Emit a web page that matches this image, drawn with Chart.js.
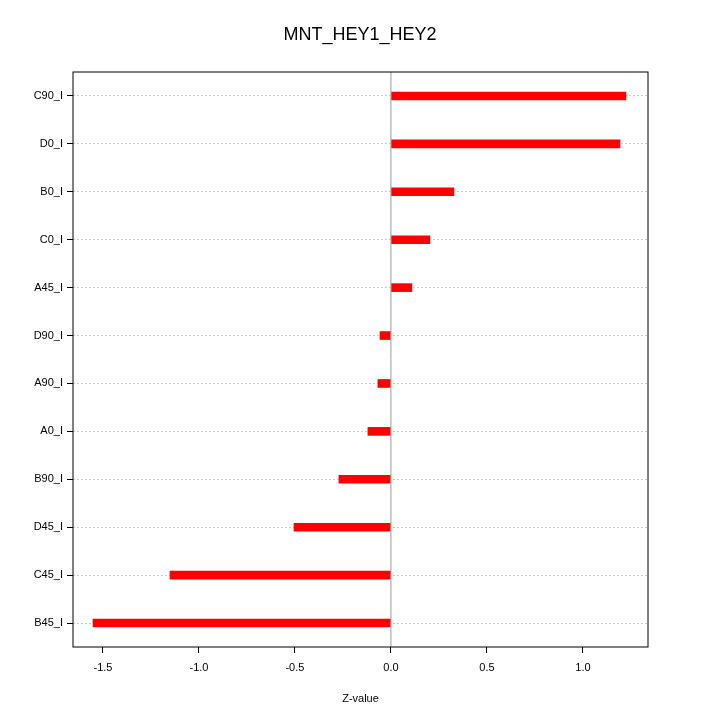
<!DOCTYPE html>
<html>
<head>
<script src="https://cdn.jsdelivr.net/npm/chart.js@4"></script>
<style>body{margin:0;background:#fff}#wrap{width:720px;height:720px}</style>
</head>
<body>
<div id="wrap"><canvas id="c" width="720" height="720"></canvas></div>
<script>
const categories = ['C90_I','D0_I','B0_I','C0_I','A45_I','D90_I','A90_I','A0_I','B90_I','D45_I','C45_I','B45_I'];
const zValues = [1.224,1.193,0.328,0.203,0.109,-0.057,-0.068,-0.12,-0.271,-0.505,-1.151,-1.552];
const xTicks = [-1.5,-1.0,-0.5,0.0,0.5,1.0];
const chartTitle = 'MNT_HEY1_HEY2';

const frame = {
  id: 'frame',
  afterDatasetsDraw(chart) {
    const {ctx, chartArea: a, scales} = chart;
    ctx.save();
    const x0 = scales.x.getPixelForValue(0);
    ctx.strokeStyle = '#999';
    ctx.lineWidth = 1;
    ctx.beginPath(); ctx.moveTo(x0, a.top); ctx.lineTo(x0, a.bottom); ctx.stroke();
    ctx.strokeStyle = '#000';
    ctx.strokeRect(a.left, a.top, a.right - a.left, a.bottom - a.top);
    // title centred on the whole page
    ctx.fillStyle = '#000';
    ctx.font = '18px "Liberation Sans"';
    ctx.textAlign = 'center';
    ctx.textBaseline = 'middle';
    ctx.fillText(chartTitle, 360, 35);
    ctx.restore();
  }
};

new Chart(document.getElementById('c'), {
  type: 'bar',
  data: {
    labels: categories,
    datasets: [{ data: zValues, backgroundColor: '#ff0000', barThickness: 8 }]
  },
  options: {
    indexAxis: 'y',
    responsive: false,
    animation: false,
    layout: { padding: { top: 72, right: 72, bottom: 0, left: 0 } },
    plugins: {
      legend: { display: false },
      tooltip: { enabled: false },
      title: { display: false }
    },
    scales: {
      x: {
        min: -1.656, max: 1.339,
        afterBuildTicks(s) { s.ticks = xTicks.map(v => ({ value: v })); },
        ticks: { color: '#000', font: { family: 'Liberation Sans', size: 11 },
          callback: v => v.toFixed(1), maxRotation: 0, padding: 8 },
        grid: { display: true, drawOnChartArea: false, drawTicks: true, tickLength: 6, color: '#000' },
        border: { display: false },
        title: { display: true, text: 'Z-value', color: '#000',
          font: { family: 'Liberation Sans', size: 11 }, padding: { top: 18, bottom: 14 } },
        afterFit(s) { s.height = 73; }
      },
      y: {
        ticks: { color: '#000', font: { family: 'Liberation Sans', size: 11 }, padding: 4 },
        grid: { color: '#ccc', lineWidth: 1, tickLength: 6, tickColor: '#000', offset: false },
        border: { display: false, dash: [2, 2] },
        afterFit(s) { s.width = 73; }
      }
    }
  },
  plugins: [frame]
});
</script>
</body>
</html>
